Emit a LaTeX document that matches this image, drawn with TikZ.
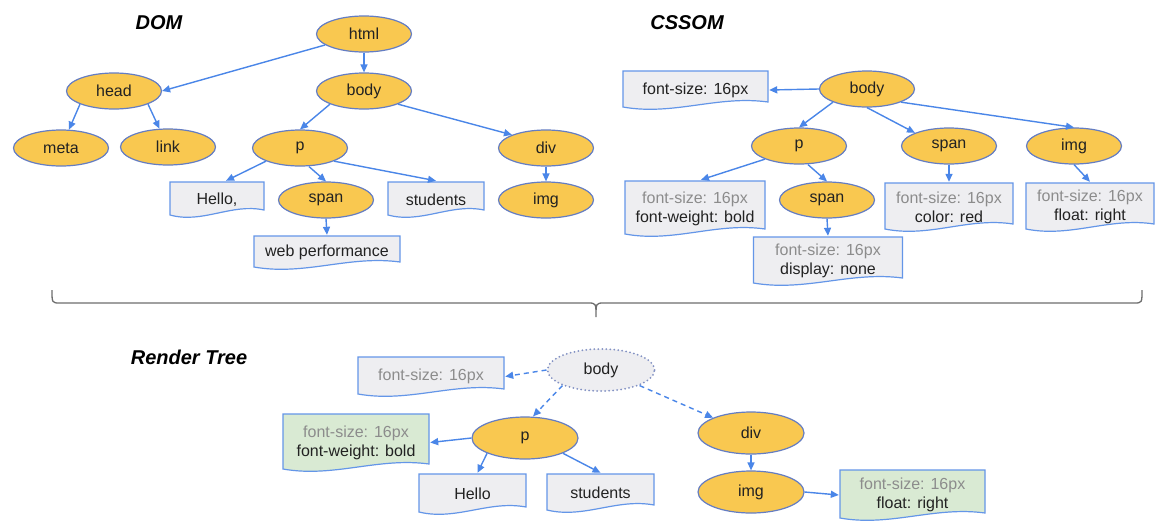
\documentclass[tikz,border=0pt]{standalone}
\usepackage{fontspec}
\setmainfont{Liberation Sans}
\usetikzlibrary{arrows.meta,calc,shapes.geometric}
\definecolor{ylw}{RGB}{249,200,80}
\definecolor{ellb}{RGB}{100,125,195}
\definecolor{arr}{RGB}{74,134,232}
\definecolor{boxb}{RGB}{100,150,232}
\definecolor{boxg}{RGB}{238,238,241}
\definecolor{boxgr}{RGB}{217,234,211}
\definecolor{gtxt}{RGB}{140,140,140}
\definecolor{txt}{RGB}{34,34,34}
\definecolor{dotc}{RGB}{130,145,195}
\definecolor{brc}{RGB}{110,110,110}
\begin{document}
\begin{tikzpicture}[x=1pt,y=-1pt,
  every node/.style={font=\fontsize{16}{19}\selectfont, text=txt},
  el/.style={ellipse, fill=ylw, draw=ellb, line width=1.2pt, minimum width=95pt, minimum height=36pt, inner sep=0pt},
  rel/.style={el, minimum width=106pt, minimum height=42pt},
  doc/.style={rectangle, inner sep=0pt, align=center,
    path picture={\path[draw=boxb, line width=1.2pt, fill=#1]
      let \p1=(path picture bounding box.north west), \p2=(path picture bounding box.south east) in
      (\x1+1pt,\y1-1pt) -- (\x2-1pt,\y1-1pt) -- (\x2-1pt,\y2+8pt)
      .. controls ({\x2-0.35*(\x2-\x1)},\y2+15pt) and ({\x1+0.35*(\x2-\x1)},\y2-6pt) .. (\x1+1pt,\y2+3pt) -- cycle;}},
  ttl/.style={font=\fontsize{20}{24}\selectfont\bfseries\itshape, text=black},
  ar/.style={draw=arr, line width=1.4pt, -{Triangle[length=8pt,width=7pt]}},
  dar/.style={ar, dash pattern=on 5pt off 4pt},
]
\useasboundingbox[fill=white] (0,0) rectangle (1156,520);

% ---------- DOM ----------
\node[ttl] (tdom) at (159,23) {DOM};
\node[el] (html) at (364,34) {html};
\node[el] (head) at (114,91) {head};
\node[el] (body) at (364,91) {body};
\node[el] (meta) at (61,148) {meta};
\node[el] (link) at (168,147) {link};
\node[el] (p) at (300,148) {p};
\node[el] (div) at (546,148) {div};
\node[el] (span) at (326,200) {span};
\node[el] (img) at (546,200) {img};
\node[doc=boxg, minimum width=96pt, minimum height=37pt] (hello) at (217,199.5) {Hello,};
\node[doc=boxg, minimum width=98pt, minimum height=37pt] (students) at (436,199.5) {students};
\node[doc=boxg, minimum width=148pt, minimum height=35pt] (web) at (327,252.5) {web performance};

\draw[ar] (html) -- (head.east);
\draw[ar] (html.south) -- (body.north);
\draw[ar] (head.south west) -- (meta);
\draw[ar] (head.south east) -- (link);
\draw[ar] (body.south west) -- (p.north);
\draw[ar] (body.south east) -- (div.north west);
\draw[ar] (p.south west) -- ([xshift=9pt]hello.north);
\draw[ar] ([xshift=9pt]p.south) -- (span.north);
\draw[ar] (p.south east) -- (students.north);
\draw[ar] (div.south) -- (img.north);
\draw[ar] (span.south) -- (web.north);

% ---------- CSSOM ----------
\node[ttl] (tcss) at (687,23) {CSSOM};
\node[el] (cbody) at (867,89) {body};
\node[el] (cp) at (799,146) {p};
\node[el] (cspan) at (949,146) {span};
\node[el] (cimg) at (1074,146) {img};
\node[el] (cspan2) at (827,200) {span};
\node[doc=boxg, minimum width=147pt, minimum height=40pt] (cfs) at (695.5,90) {font-size: 16px};
\node[doc=boxg, minimum width=142pt, minimum height=57pt] (cpbox) at (695,208.5) {\textcolor{gtxt}{font-size: 16px}\\font-weight: bold};
\node[doc=boxg, minimum width=151pt, minimum height=50pt] (cdbox) at (828,261) {\textcolor{gtxt}{font-size: 16px}\\display: none};
\node[doc=boxg, minimum width=130pt, minimum height=50pt] (ccbox) at (949,207) {\textcolor{gtxt}{font-size: 16px}\\color: red};
\node[doc=boxg, minimum width=130pt, minimum height=50pt] (cfbox) at (1090,207) {\textcolor{gtxt}{font-size: 16px}\\float: right};

\draw[ar] (cbody.west) -- (cfs.east);
\draw[ar] (cbody.south west) -- (cp.north);
\draw[ar] (cbody.south) -- (cspan.north west);
\draw[ar] (cbody.south east) -- (cimg.north);
\draw[ar] (cp.south west) -- ([xshift=6pt]cpbox.north);
\draw[ar] ([xshift=9pt]cp.south) -- (cspan2.north);
\draw[ar] (cspan.south) -- (ccbox.north);
\draw[ar] (cimg.south) -- (cfbox.north);
\draw[ar] (cspan2.south) -- (cdbox.north);

% ---------- brace ----------
\coordinate (bl) at (52,290);
\coordinate (bm) at (596,317);
\coordinate (br) at (1142,290);
\draw[brc, line width=1.3pt] (bl) .. controls (52,303) .. (60,303) -- (588,303)
  .. controls (596,303) .. (bm) .. controls (596,303) .. (604,303) -- (1134,303)
  .. controls (1142,303) .. (br);

% ---------- Render tree ----------
\node[ttl] (trt) at (189,357) {Render Tree};
\node[ellipse, fill=boxg, draw=dotc, line width=2pt, dash pattern=on 0pt off 4pt, line cap=round,
      minimum width=107pt, minimum height=42pt, inner sep=0pt] (rbody) at (601,370) {body};
\node[rel] (rp) at (525,438) {p};
\node[rel] (rdiv) at (751,433) {div};
\node[rel] (rimg) at (751,492) {img};
\node[doc=boxg, minimum width=148pt, minimum height=41pt] (rfs) at (431,376.5) {\textcolor{gtxt}{font-size: 16px}};
\node[doc=boxgr, minimum width=148pt, minimum height=59pt] (rfw) at (356,442.5) {\textcolor{gtxt}{font-size: 16px}\\font-weight: bold};
\node[doc=boxg, minimum width=109pt, minimum height=42pt] (rhello) at (472.5,494) {Hello};
\node[doc=boxg, minimum width=109pt, minimum height=40pt] (rstud) at (600.5,493) {students};
\node[doc=boxgr, minimum width=147pt, minimum height=52pt] (rfl) at (912.5,495) {\textcolor{gtxt}{font-size: 16px}\\float: right};

\draw[dar] (rbody.west) -- (rfs.east);
\draw[dar] (rbody.south west) -- ([xshift=8pt]rp.north);
\draw[dar] (rbody.south east) -- (rdiv.north west);
\draw[ar] (rp.west) -- (rfw.east);
\draw[ar] (rp.south west) -- ([xshift=5pt]rhello.north);
\draw[ar] (rp.south east) -- (rstud.north);
\draw[ar] (rdiv.south) -- (rimg.north);
\draw[ar] (rimg.east) -- (rfl.west);
\end{tikzpicture}
\end{document}
